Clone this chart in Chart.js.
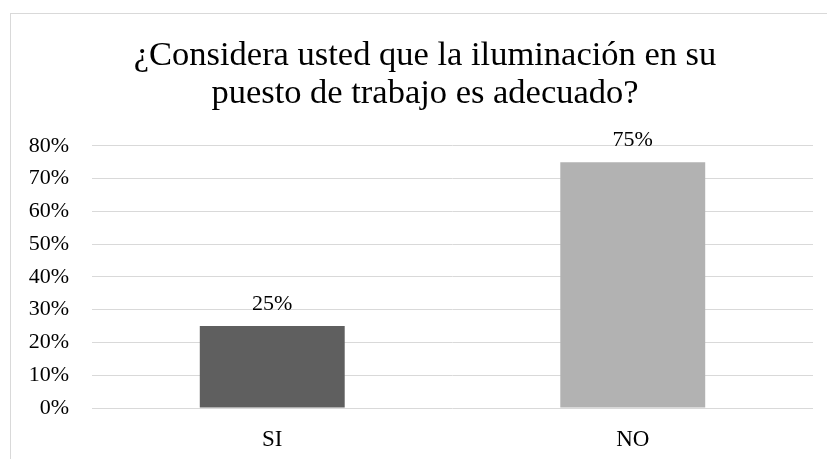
<!DOCTYPE html>
<html>
<head>
<meta charset="utf-8">
<script src="https://cdn.jsdelivr.net/npm/chart.js@4.4.1/dist/chart.umd.min.js"></script>
<style>
  html, body { margin: 0; padding: 0; background: #fff; overflow: hidden; }
  #frame {
    position: absolute; left: 10px; top: 13px;
    width: 900px; height: 500px;
    border: 1px solid #d9d9d9;
  }
  #chart { position: absolute; left: 0; top: 0; }
</style>
</head>
<body>
<div id="frame"></div>
<canvas id="chart" width="827" height="459"></canvas>
<script>
// Datos de la gráfica
const categories = ['SI', 'NO'];
const values     = [0.25, 0.75];
const barColors  = ['#5f5f5f', '#b2b2b2'];
const titleLines = ['¿Considera usted que la iluminación en su', 'puesto de trabajo es adecuado?'];

const FONT = "'Liberation Serif', 'Times New Roman', serif";
const pct  = v => Math.round(v * 100) + '%';

// Etiquetas de valor sobre cada barra
const valueLabels = {
  id: 'valueLabels',
  afterDatasetsDraw(chart) {
    const ctx = chart.ctx;
    const meta = chart.getDatasetMeta(0);
    ctx.save();
    ctx.font = '22px ' + FONT;
    ctx.fillStyle = '#000';
    ctx.textAlign = 'center';
    ctx.textBaseline = 'alphabetic';
    meta.data.forEach((bar, i) => {
      ctx.fillText(pct(values[i]), bar.x, bar.y - 16);
    });
    ctx.restore();
  },
};

// El título va centrado en el marco, no en el lienzo
const titleShift = {
  id: 'titleShift',
  afterLayout(chart) {
    const t = chart.titleBlock;
    if (t) { t.left += 15; t.right += 15; }
  },
};

new Chart(document.getElementById('chart'), {
  type: 'bar',
  data: {
    labels: categories,
    datasets: [{
      data: values,
      backgroundColor: barColors,
      borderWidth: 0,
      barPercentage: 0.402,
      categoryPercentage: 1,
    }],
  },
  options: {
    responsive: false,
    animation: false,
    layout: { padding: { left: 7, right: 14, top: 37, bottom: 0 } },
    plugins: {
      legend: { display: false },
      tooltip: { enabled: false },
      title: {
        display: true,
        text: titleLines,
        color: '#000',
        font: { family: FONT, size: 34.5, weight: 'normal', lineHeight: 1.1 },
        padding: { top: 0, bottom: 33 },
      },
    },
    scales: {
      x: {
        grid: { display: false, drawTicks: false },
        border: { display: false },
        ticks: { color: '#000', font: { family: FONT, size: 23 }, padding: 18 },
        afterFit: s => { s.height = 51; },
      },
      y: {
        min: 0,
        max: 0.8,
        grid: { color: '#d9d9d9', lineWidth: 1, drawTicks: false },
        border: { display: false },
        ticks: {
          stepSize: 0.1,
          color: '#000',
          font: { family: FONT, size: 22 },
          padding: 23,
          callback: v => pct(v),
        },
        afterFit: s => { s.width = 85; },
      },
    },
  },
  plugins: [valueLabels, titleShift],
});
</script>
</body>
</html>
